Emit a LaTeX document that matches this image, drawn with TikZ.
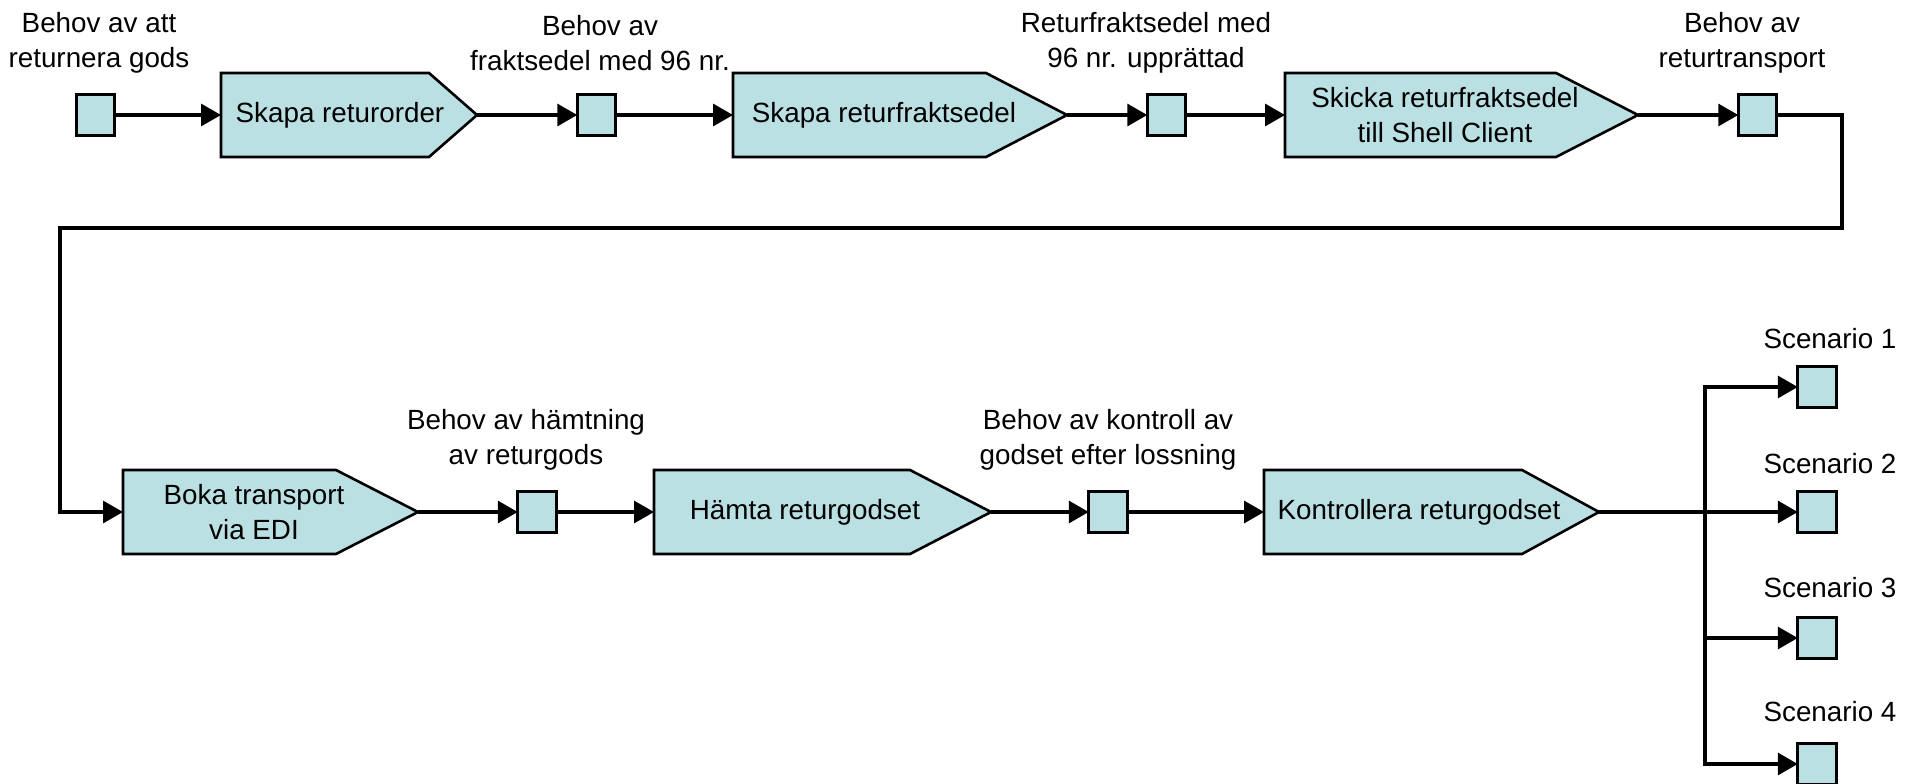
\documentclass[tikz,border=0pt]{standalone}
\usepackage{fontspec}
\setmainfont{Liberation Sans}
\usetikzlibrary{arrows.meta,calc}
\definecolor{boxfill}{RGB}{187,224,227}

% Process step: pentagon pointing right.
% #1 name, #2 left x, #3 shoulder x, #4 tip x, #5 centre y, #6 text centre x, #7 text
\newcommand\procstep[7]{%
  \draw[procshape] (#2,#5-42) -- (#3,#5-42) -- (#4,#5) -- (#3,#5+42)
        -- (#2,#5+42) -- cycle;
  \coordinate (#1in) at (#2,#5);
  \coordinate (#1out) at (#4,#5);
  \node[txt] (#1) at (#6,#5) {#7};
}

\begin{document}
\begin{tikzpicture}[x=1pt,y=-1pt,
  txt/.style={font=\fontsize{27.8}{35}\selectfont, align=center, inner sep=0pt},
  state/.style={draw, line width=2.7pt, fill=boxfill, minimum width=38.5pt,
                minimum height=40.5pt, inner sep=0pt, outer sep=0pt},
  procshape/.style={draw, line width=2.6pt, fill=boxfill, line join=miter},
  flow/.style={line width=3.4pt, -{Triangle[length=20pt,width=22pt]}},
]
\useasboundingbox (0,0) rectangle (1917,784);

% ---- first row ----
\node[state] (s1) at (95.5,115) {};
\node[state] (s2) at (596.5,115) {};
\node[state] (s3) at (1166.5,115) {};
\node[state] (s4) at (1757.5,115) {};

\procstep{p1}{221}{429}{477}{115}{340}{Skapa returorder}
\procstep{p2}{733}{986}{1067}{115}{884}{Skapa returfraktsedel}
\procstep{p3}{1285}{1556}{1638}{115}{1445}{Skicka returfraktsedel\\till Shell Client}

\node[txt] (l1) at (99,43) {Behov av att\\returnera gods};
\node[txt] (l2) at (600,43) {Behov av\\fraktsedel med 96 nr.};
\node[txt] (l3) at (1146,43) {Returfraktsedel med\\96 nr. upprättad};
\node[txt] (l4) at (1742,43) {Behov av\\returtransport};

% ---- second row ----
\node[state] (s5) at (537,512) {};
\node[state] (s6) at (1108,512) {};

\procstep{p4}{123}{336}{418}{512}{254}{Boka transport\\via EDI}
\procstep{p5}{654}{910}{991}{512}{805}{Hämta returgodset}
\procstep{p6}{1264}{1522}{1599}{512}{1419}{Kontrollera returgodset}

\node[txt] (l5) at (526,440) {Behov av hämtning\\av returgods};
\node[txt] (l6) at (1108,440) {Behov av kontroll av\\godset efter lossning};

% ---- outcomes ----
\node[state] (sc1) at (1817,387) {};
\node[state] (sc2) at (1817,512) {};
\node[state] (sc3) at (1817,638) {};
\node[state] (sc4) at (1817,764) {};

\node[txt] (t1) at (1830,339) {Scenario 1};
\node[txt] (t2) at (1830,464) {Scenario 2};
\node[txt] (t3) at (1830,588) {Scenario 3};
\node[txt] (t4) at (1830,712) {Scenario 4};

% ---- connectors ----
\draw[flow] (s1) -- (p1in);
\draw[flow] (p1out) -- (s2);
\draw[flow] (s2) -- (p2in);
\draw[flow] (p2out) -- (s3);
\draw[flow] (s3) -- (p3in);
\draw[flow] (p3out) -- (s4);

\coordinate (r1) at (1842,228);
\coordinate (r2) at (60,228);
\draw[flow] (s4) -| (r1) -- (r2) |- (p4in);

\draw[flow] (p4out) -- (s5);
\draw[flow] (s5) -- (p5in);
\draw[flow] (p5out) -- (s6);
\draw[flow] (s6) -- (p6in);

\coordinate (br) at (1705,512);
\draw[flow] (p6out) -- (sc2);
\draw[flow] (br) |- (sc1);
\draw[flow] (br) |- (sc3);
\draw[flow] (br) |- (sc4);
\end{tikzpicture}
\end{document}
